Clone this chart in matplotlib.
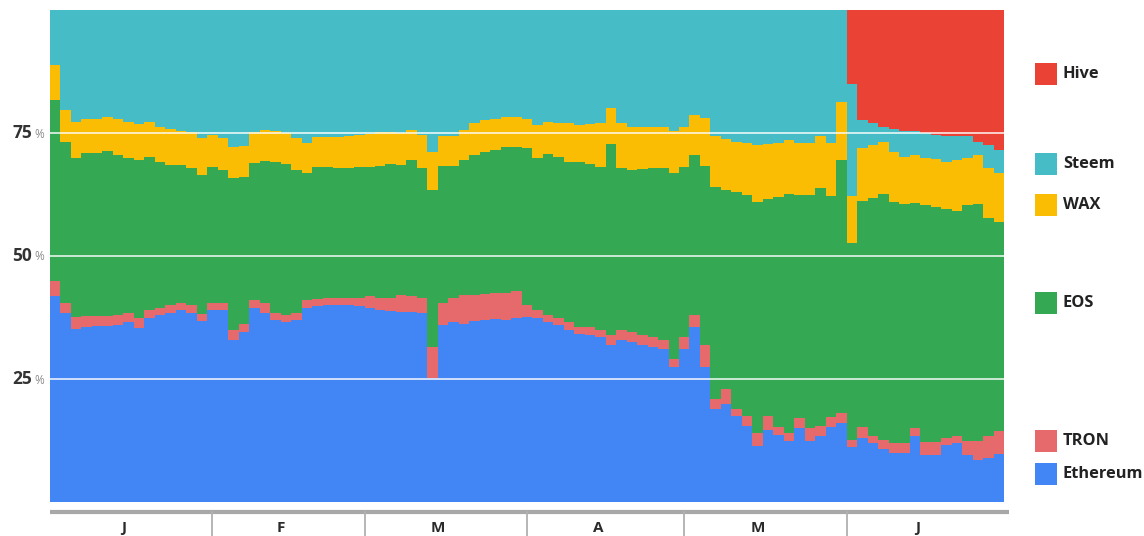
import numpy as np
import matplotlib
matplotlib.use("Agg")
import matplotlib.pyplot as plt
from matplotlib.patches import Rectangle
from matplotlib import transforms

# ---------------- data (share in %, one value per 2-day bin, Jan 1 - Jun 30) -------------
series_names = ["Ethereum", "TRON", "EOS", "WAX", "Steem", "Hive"]
series_colors = ["#4285F4", "#E66A6C", "#34A853", "#FBBC04", "#46BDC6", "#EA4335"]
month_labels = ["J", "F", "M", "A", "M", "J"]
month_days = [31, 29, 31, 30, 31, 30]
bin_days = 2
y_ticks = [25, 50, 75]

ethereum = [41.9, 38.5, 35.2, 35.5, 35.8, 35.8, 36.0, 36.5, 35.3, 37.5,
            38.0, 38.5, 39.0, 38.5, 36.8, 39.0, 39.0, 33.0, 34.5, 39.4,
            38.5, 37.0, 36.6, 37.0, 39.5, 39.8, 40.0, 40.0, 40.0, 39.8,
            39.5, 39.0, 38.8, 38.6, 38.6, 38.4, 25.2, 36.0, 36.5, 36.2,
            36.8, 37.0, 37.2, 37.0, 37.5, 37.6, 37.5, 36.5, 36.0, 35.0,
            34.2, 34.0, 33.5, 32.0, 33.0, 32.5, 32.0, 31.5, 31.0, 27.5,
            31.0, 35.6, 27.4, 19.0, 20.0, 17.5, 15.5, 11.4, 14.6, 13.6,
            12.5, 15.0, 12.4, 13.5, 15.2, 16.0, 11.2, 13.0, 12.0, 10.8,
            10.0, 10.0, 13.5, 9.6, 9.6, 11.5, 12.0, 9.5, 8.5, 9.0,
            9.8]
tron = [3.1, 2.0, 2.4, 2.3, 2.0, 2.0, 2.0, 2.0, 2.0, 1.5,
        1.5, 1.5, 1.4, 1.5, 1.4, 1.4, 1.4, 2.0, 1.7, 1.6,
        2.0, 1.5, 1.4, 1.5, 1.5, 1.4, 1.5, 1.5, 1.5, 1.7,
        2.3, 2.5, 2.7, 3.4, 3.2, 3.1, 6.4, 4.5, 5.0, 5.8,
        5.2, 5.2, 5.3, 5.5, 5.3, 2.4, 1.5, 1.5, 1.5, 1.5,
        1.3, 1.5, 1.5, 2.0, 2.0, 2.0, 2.0, 2.0, 2.0, 1.5,
        2.5, 2.4, 4.6, 2.0, 3.0, 1.5, 2.0, 2.6, 2.9, 1.6,
        1.5, 2.0, 2.6, 2.0, 2.1, 2.0, 1.5, 2.2, 1.5, 1.8,
        2.0, 2.0, 1.5, 2.6, 2.6, 1.5, 1.5, 2.9, 3.9, 4.5,
        4.7]
eos = [36.7, 32.7, 32.3, 33.1, 33.1, 33.6, 32.5, 31.4, 32.2, 31.2,
       29.7, 28.5, 28.1, 27.8, 28.3, 27.7, 27.1, 30.8, 29.9, 28.0,
       28.9, 30.7, 30.7, 29.0, 25.8, 26.8, 26.5, 26.3, 26.3, 26.5,
       26.2, 26.7, 27.3, 26.5, 27.7, 26.3, 31.8, 27.7, 26.7, 27.5,
       28.5, 29.0, 29.0, 29.6, 29.4, 31.9, 30.9, 32.7, 32.7, 32.7,
       33.7, 33.3, 33.1, 38.8, 32.8, 33.0, 33.6, 34.3, 34.8, 37.8,
       34.5, 32.5, 36.2, 43.1, 40.4, 44.1, 44.9, 47.0, 44.0, 46.7,
       48.7, 45.3, 47.4, 48.3, 44.8, 51.5, 39.9, 46.0, 48.2, 50.1,
       49.0, 48.5, 45.7, 48.2, 47.8, 46.6, 45.6, 48.0, 48.1, 44.2,
       42.5]
wax = [7.1, 6.5, 7.4, 6.9, 7.0, 6.9, 7.3, 7.4, 7.3, 7.1,
       7.1, 7.4, 7.0, 7.5, 7.4, 6.5, 6.4, 6.3, 6.3, 6.3,
       6.2, 6.2, 6.4, 6.4, 6.2, 6.1, 6.2, 6.4, 6.6, 6.6,
       6.8, 7.1, 6.5, 6.6, 6.2, 6.8, 7.8, 6.1, 6.2, 6.1,
       6.5, 6.4, 6.3, 6.1, 6.0, 5.9, 6.7, 6.6, 6.9, 7.8,
       7.4, 8.0, 8.9, 7.2, 9.3, 8.7, 8.7, 8.5, 8.5, 8.7,
       8.2, 8.2, 9.8, 10.2, 10.3, 10.1, 10.5, 11.6, 11.3, 11.0,
       10.9, 10.6, 10.5, 10.6, 10.8, 11.9, 9.5, 10.8, 10.9, 10.5,
       10.2, 9.7, 9.8, 9.5, 9.8, 9.6, 10.4, 9.5, 10.0, 10.1,
       9.8]
steem = [11.2, 20.3, 22.7, 22.2, 22.1, 21.7, 22.2, 22.7, 23.2, 22.7,
         23.7, 24.1, 24.5, 24.7, 26.1, 25.4, 26.1, 27.9, 27.6, 24.7,
         24.4, 24.6, 24.9, 26.1, 27.0, 25.9, 25.8, 25.8, 25.6, 25.4,
         25.2, 24.7, 24.7, 24.9, 24.3, 25.4, 28.8, 25.7, 25.6, 24.4,
         23.0, 22.4, 22.2, 21.8, 21.8, 22.2, 23.4, 22.7, 22.9, 23.0,
         23.4, 23.2, 23.0, 20.0, 22.9, 23.8, 23.7, 23.7, 23.7, 24.5,
         23.8, 21.3, 22.0, 25.7, 26.3, 26.8, 27.1, 27.4, 27.2, 27.1,
         26.4, 27.1, 27.1, 25.6, 27.1, 18.6, 22.9, 5.6, 4.4, 3.1,
         4.6, 5.2, 5.0, 5.0, 4.8, 5.1, 4.8, 4.4, 2.7, 4.8,
         4.7]
hive = [0.0] * 76 + [15.0, 22.4, 23.0, 23.7, 24.2, 24.6, 24.5, 25.1, 25.4, 25.7,
                     25.7, 25.7, 26.8, 27.4, 28.5]

# ---------------- figure ----------------
W, H = 1144, 536
fig = plt.figure(figsize=(W / 100, H / 100), dpi=100)
ax = fig.add_axes([50 / W, 1 - 502 / H, (1004 - 50) / W, (502 - 10) / H])

values = [np.asarray(v, dtype=float) for v in [ethereum, tron, eos, wax, steem, hive]]
n = len(ethereum)
total_days = sum(month_days)
edges = np.arange(n + 1) * bin_days          # bin start days + final edge
ext = [np.append(v, v[-1]) for v in values]  # repeat last value for the final step
tops = np.cumsum(ext, axis=0)

# draw from the top series down, each filled from 0 to its cumulative top (no seams)
for i in range(len(values) - 1, -1, -1):
    if values[i].max() <= 0:
        continue
    ax.fill_between(edges, 0, tops[i], step="post", color=series_colors[i],
                    linewidth=0, label=series_names[i], zorder=1)

ax.set_xlim(0, total_days)
ax.set_ylim(0, 100)
for s in ax.spines.values():
    s.set_visible(False)
ax.set_xticks([])
ax.set_yticks([])

# grid lines on top
for t in y_ticks:
    ax.axhline(t, color="white", alpha=0.75, lw=1.4, zorder=5)

# y labels: bold number + small grey "%"
font = "Open Sans"
pct_tr = transforms.offset_copy(ax.get_yaxis_transform(), fig=fig, x=-6, y=-1, units="dots")
num_tr = transforms.offset_copy(ax.get_yaxis_transform(), fig=fig, x=-18, y=0, units="dots")
for t in y_ticks:
    ax.text(0, t, "%", transform=pct_tr, ha="right", va="center",
            fontsize=8.5, color="#8a8a8a", family=font)
    ax.text(0, t, str(t), transform=num_tr, ha="right", va="center",
            fontsize=12.5, fontweight="bold", color="#333333", family=font)

# x axis: thick grey baseline, month separators and labels
xtr = ax.get_xaxis_transform()
ax.plot([0, total_days + 1], [-0.02, -0.02], transform=xtr, color="#a8a8a8",
        lw=3, clip_on=False, solid_capstyle="butt")
bounds = np.cumsum([0] + month_days)
for b in bounds[1:-1]:
    ax.plot([b, b], [-0.02, -0.075], transform=xtr, color="#b0b0b0",
            lw=1.3, clip_on=False)
for i, lab in enumerate(month_labels):
    c = (bounds[i] + bounds[i + 1]) / 2 - 1.5
    ax.text(c, -0.052, lab, transform=xtr, ha="center", va="center",
            fontsize=11, fontweight="bold", color="#2a2a2a", family=font)

# legend at right
legend_y = {"Hive": 74, "Steem": 164, "WAX": 205, "EOS": 303, "TRON": 441, "Ethereum": 474}
for name, col in zip(series_names, series_colors):
    yc = legend_y[name]
    fig.add_artist(Rectangle((1035 / W, 1 - (yc + 11) / H), 22 / W, 22 / H,
                             transform=fig.transFigure, facecolor=col, edgecolor="none"))
    fig.text(1063 / W, 1 - yc / H, name, ha="left", va="center", fontsize=11.8,
             fontweight="bold", color="#222222", family=font)

fig.savefig("out.png", dpi=100)
